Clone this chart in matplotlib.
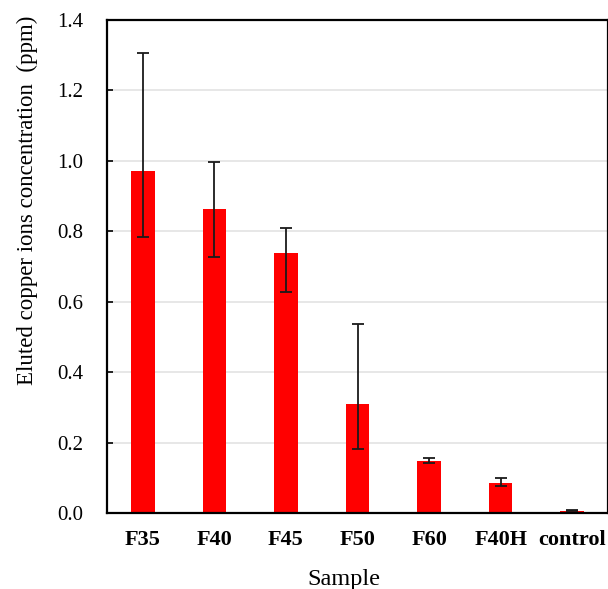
import matplotlib
matplotlib.use("Agg")
import matplotlib.pyplot as plt
import numpy as np

samples = ["F35", "F40", "F45", "F50", "F60", "F40H", "control"]
conc = [0.970, 0.863, 0.738, 0.309, 0.147, 0.085, 0.007]
err_low = [0.185, 0.137, 0.110, 0.127, 0.004, 0.007, 0.002]
err_high = [0.336, 0.133, 0.072, 0.229, 0.008, 0.014, 0.001]

plt.rcParams["font.family"] = ["Liberation Serif", "DejaVu Serif"]

fig = plt.figure(figsize=(6.08, 5.89), dpi=100)
ax = fig.add_axes([107 / 608, 76 / 589, 501 / 608, 493 / 589])

index = np.arange(len(samples))
ax.bar(index, conc, 0.33, color="#ff0000", zorder=2)
ax.errorbar(index, conc, yerr=[err_low, err_high], fmt="none",
            ecolor="#1a1a1a", elinewidth=1.3, capsize=4, capthick=1.3, zorder=3)

ax.set_xlim(-0.5, len(samples) - 0.5)
ax.set_ylim(0, 1.4)
ticks = np.arange(0, 1.41, 0.2)
ax.set_yticks(ticks)
ax.set_yticklabels([f"{v:.1f}" for v in ticks], fontsize=15)
ax.set_xticks(index)
ax.set_xticklabels(samples, fontsize=16, fontweight="bold")
ax.tick_params(axis="y", direction="in", length=4, width=1.2, pad=17)
ax.tick_params(axis="x", length=0, pad=12)
ax.grid(axis="y", color="#e3e3e3", linewidth=1.2, zorder=0)
ax.set_axisbelow(True)
for s in ax.spines.values():
    s.set_linewidth(1.6)

ax.set_xlabel("Sample", fontsize=17.5)
ax.xaxis.set_label_coords(0.473, -0.113)
ax.set_ylabel("Eluted copper ions concentration  (ppm)", fontsize=16.5)
ax.yaxis.set_label_coords(-0.138, 0.635)

fig.savefig("out.png", dpi=100)
